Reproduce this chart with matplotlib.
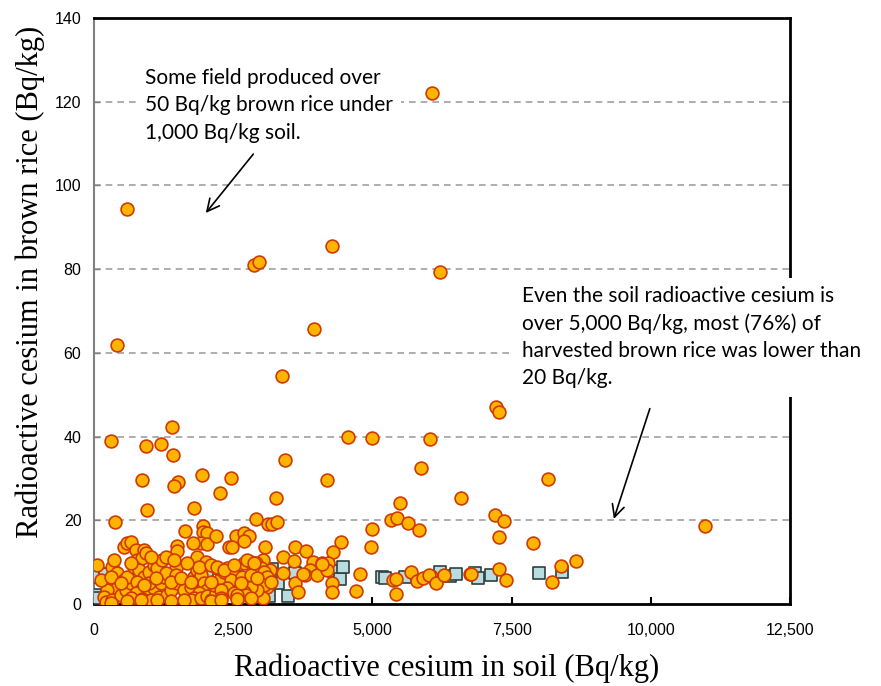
import numpy as np
import matplotlib as mpl
mpl.use('Agg')
import matplotlib.pyplot as plt

# brown rice vs soil cesium, orange circles (Bq/kg)
circ_x = [6070, 593, 2874, 2969, 4268, 6208, 419, 3945, 3382, 311, 928, 1209, 1407, 1419,
          4562, 4987, 6035, 3430, 5867, 1945, 2455, 856, 1509, 1437, 4190, 2257, 958, 1796,
          3269, 377, 2904, 3125, 3203, 3281, 7220, 7280, 8148, 6586, 7196, 7364, 7280, 7890,
          10974, 8651, 8393, 8231, 7280, 7394, 6758, 6142, 6052,
          5329, 5437, 5645, 5831, 4999, 4975, 3066, 3610, 3802, 4430, 4298, 3400, 3598, 3939,
          4100, 4208, 3880, 3790, 4000, 4180, 4777, 3400, 3610, 3670, 4269, 4269, 4705, 5424,
          5375, 5424, 5693, 5795, 5915, 6017, 6137, 3041, 3101, 3101, 3030, 5496, 3161, 3759,
          4089, 6286, 6765,
          1634, 1952, 1952, 2035, 1922, 2035, 1784, 2191, 2545, 2700, 2784, 2700, 2430, 2473,
          1485, 1497, 48, 329,
          539, 598, 670, 749, 898, 778, 868, 928,
          408, 539, 419, 239, 180, 210, 329, 480, 569, 659, 598,
          718, 808, 898, 988, 1078, 1137, 1227, 1288, 1467,
          778, 838, 958, 1078, 1198, 1257, 988, 749, 659, 868, 1018, 1167, 1317, 1377, 1288, 1108,
          1467, 1496, 1616, 1737, 1796, 1855, 1916, 1976, 2035, 1886, 1796, 1737, 1916, 2035,
          2096, 2185, 2155, 2276, 2335, 2215, 2394, 2484, 2455, 2394, 2276, 2514, 2276,
          1855, 2006, 1886, 2096,
          2694, 2814, 2904, 2994, 3053, 3113, 3053, 2933, 2814, 2694, 2724, 2574, 2663, 2814, 2933,
          359, 659, 1018, 1437, 1676, 2215, 2335, 2514, 2754, 2874,
          120, 299, 479, 898, 1377, 1557, 1737, 2096, 2634, 3173,
          299, 598, 838, 1137, 1377, 1616, 2096, 2276, 2574, 2814]
circ_y = [122.1, 94.4, 81.0, 81.6, 85.6, 79.2, 61.9, 65.8, 54.4, 39.0, 37.7, 38.3, 42.3, 35.7,
          39.9, 39.7, 39.5, 34.3, 32.4, 30.8, 30.0, 29.6, 29.2, 28.2, 29.6, 26.4, 22.5, 22.9,
          25.3, 19.7, 20.2, 19.0, 19.0, 19.7, 47.0, 45.9, 29.8, 25.3, 21.3, 19.8, 15.9, 14.6,
          18.7, 10.3, 9.1, 5.2, 8.4, 5.7, 7.1, 5.3, 6.7,
          20.1, 20.5, 19.4, 17.7, 17.8, 13.7, 13.7, 13.7, 12.7, 14.9, 12.5, 11.2, 10.3, 10.1,
          9.7, 9.7, 8.1, 6.9, 6.9, 8.1, 7.1, 7.3, 4.9, 2.9, 4.9, 2.9, 3.2, 2.4,
          5.7, 5.9, 7.6, 5.5, 6.3, 6.9, 5.1, 10.5, 6.9, 4.1, 1.4, 24.2, 8.1, 7.2,
          9.6, 6.9, 7.2,
          17.4, 18.6, 17.3, 16.9, 14.5, 14.3, 14.6, 16.3, 16.3, 17.0, 16.2, 15.1, 13.5, 13.5,
          13.9, 12.7, 9.2, 8.9,
          13.7, 14.5, 14.9, 12.9, 12.9, 10.5, 10.9, 12.1,
          7.3, 5.7, 3.8, 3.3, 1.7, 0.5, 1.0, 2.2, 3.3, 4.9, 6.5,
          8.9, 8.1, 6.5, 7.7, 9.3, 8.5, 10.5, 11.3, 8.5,
          5.3, 3.3, 2.2, 3.8, 5.0, 6.5, 5.0, 2.6, 1.4, 1.1, 1.0, 1.7, 2.2, 3.3, 7.3, 6.1,
          6.9, 5.1, 3.3, 4.1, 6.5, 8.1, 6.9, 4.9, 3.3, 2.6, 1.5, 1.0, 1.4, 1.8,
          1.0, 2.6, 4.5, 6.1, 7.7, 8.5, 8.5, 7.7, 5.7, 3.8, 3.3, 2.6, 1.4,
          11.3, 10.1, 8.9, 9.3,
          9.7, 10.1, 9.7, 8.5, 7.7, 6.5, 4.5, 3.3, 4.1, 2.9, 2.2, 2.2, 6.5, 6.9, 6.1,
          10.5, 9.7, 11.3, 10.5, 9.7, 8.9, 8.1, 9.3, 10.5, 9.7,
          5.7, 6.5, 4.9, 4.5, 5.3, 6.1, 5.3, 5.3, 4.9, 5.3,
          0.3, 0.6, 1.0, 1.0, 0.6, 1.0, 0.6, 1.0, 1.1, 1.4]

# light blue squares
sq_x = [18, 60, 90, 198, 2035, 2545, 3113, 3149, 3191, 3300, 3490, 3610, 4310, 4418, 4477,
        5170, 5230, 5586, 6214, 6394, 6496, 6843, 6902, 7125, 7998, 8400]
sq_y = [2.2, 6.5, 1.4, 7.2, 6.5, 6.5, 7.3, 2.0, 8.3, 5.0, 2.0, 7.3, 7.8, 5.9, 8.8,
        6.4, 6.1, 6.4, 7.6, 6.8, 7.1, 7.3, 6.1, 6.9, 7.3, 7.6]

xticks = [0, 2500, 5000, 7500, 10000, 12500]
xtick_labels = ['0', '2,500', '5,000', '7,500', '10,000', '12,500']
yticks = [0, 20, 40, 60, 80, 100, 120, 140]

note1 = "Some field produced over\n50 Bq/kg brown rice under\n1,000 Bq/kg soil."
note2 = ("Even the soil radioactive cesium is\nover 5,000 Bq/kg, most (76%) of\n"
         "harvested brown rice was lower than\n20 Bq/kg.")

fig = plt.figure(figsize=(8.81, 6.86), dpi=100)
ax = fig.add_axes([94 / 881, 1 - 604 / 686, 696 / 881, 586 / 686])

ax.scatter(sq_x, sq_y, marker='s', s=70, facecolor='#b7dde0', edgecolor='#2f3f3f',
           linewidth=1.2, zorder=3)
ax.scatter(circ_x, circ_y, marker='o', s=85, facecolor='#ffb400', edgecolor='#d03a00',
           linewidth=1.2, zorder=4)

ax.set_xlim(0, 12500)
ax.set_ylim(0, 140)
ax.set_xticks(xticks)
ax.set_xticklabels(xtick_labels)
ax.set_yticks(yticks)
for v in yticks[1:-1]:
    ax.axhline(v, color='#a0a0a0', linestyle=(0, (4, 3)), linewidth=1.2, zorder=1)

for lab in ax.get_xticklabels() + ax.get_yticklabels():
    lab.set_fontfamily('Liberation Sans')
    lab.set_fontsize(11.5)
ax.tick_params(axis='x', direction='in', length=5, width=1.5, pad=14)
ax.tick_params(axis='y', direction='in', length=4, width=1, pad=9, color='#808080')

ax.spines['left'].set_color('#808080')
ax.spines['left'].set_linewidth(1.5)
for side in ['bottom', 'right', 'top']:
    ax.spines[side].set_color('black')
    ax.spines[side].set_linewidth(2)

fig.text(447 / 881, 1 - 668 / 686, 'Radioactive cesium in soil (Bq/kg)',
         ha='center', va='center', fontsize=22, family='Liberation Serif')
fig.text(30 / 881, 1 - 282 / 686, 'Radioactive cesium in brown rice (Bq/kg)',
         ha='center', va='center', rotation=90, fontsize=22, family='Liberation Serif')

ax.text(916, 128, note1, ha='left', va='top', fontsize=15, family='Lato',
        linespacing=1.45, zorder=6,
        bbox=dict(facecolor='white', edgecolor='none', pad=6))
ax.text(7687, 76, note2, ha='left', va='top', fontsize=15, family='Lato',
        linespacing=1.45, zorder=6, clip_on=False,
        bbox=dict(facecolor='white', edgecolor='none', pad=6))

ax.annotate('', xy=(1976, 92.9), xytext=(2892, 108),
            arrowprops=dict(arrowstyle='->', color='black', lw=1.2, mutation_scale=22),
            zorder=7)
ax.annotate('', xy=(9321, 19.7), xytext=(9998, 47.3),
            arrowprops=dict(arrowstyle='->', color='black', lw=1.2, mutation_scale=22),
            zorder=7)

fig.savefig('out.png', dpi=100)
